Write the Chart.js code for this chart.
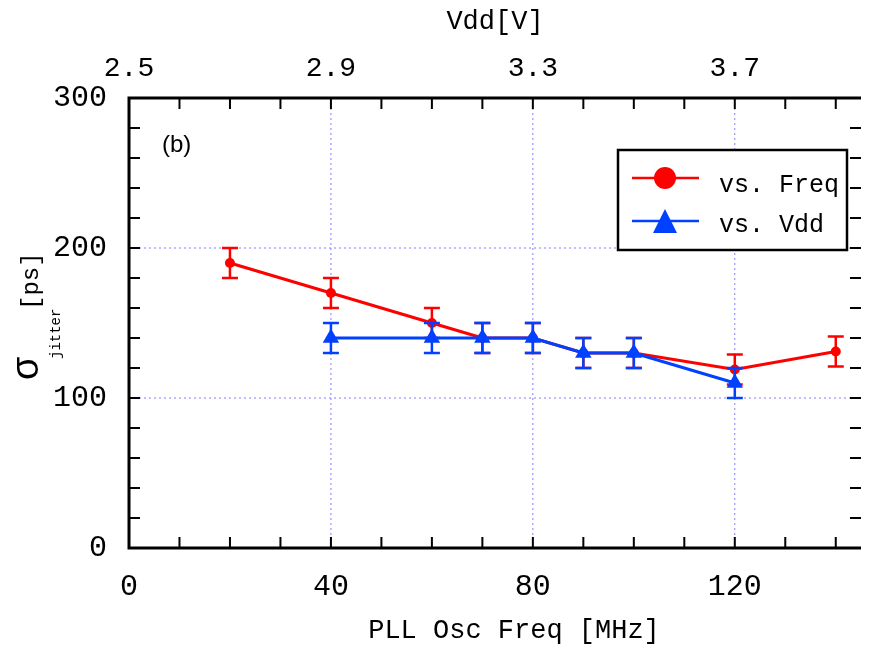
<!DOCTYPE html>
<html>
<head>
<meta charset="utf-8">
<script src="https://cdn.jsdelivr.net/npm/chart.js@4.4.1/dist/chart.umd.min.js"></script>
<style>
  html, body { margin: 0; padding: 0; background: #fff; }
  canvas { display: block; }
</style>
</head>
<body>
<canvas id="jitter" width="877" height="649"></canvas>
<script>
/* jitter vs PLL frequency / Vdd */

// red series: vs. Freq (x in MHz)
const freqX      = [20, 40, 60, 70, 80, 90, 100, 120, 140];
const freqJitter = [190, 170, 150, 140, 140, 130, 130, 119, 131];
const freqErr    = [10, 10, 10, 10, 10, 10, 10, 10, 10];

// blue series: vs. Vdd (x in V, top axis)
const vddX      = [2.9, 3.1, 3.2, 3.3, 3.4, 3.5, 3.7];
const vddJitter = [140, 140, 140, 140, 130, 130, 110];
const vddErr    = [10, 10, 10, 10, 10, 10, 10];

// tick labels
const freqTicks = [0, 40, 80, 120];
const vddTicks  = [2.5, 2.9, 3.3, 3.7];
const yTicks    = [0, 100, 200, 300];

const RED = '#ff0000';
const BLUE = '#0040ff';
const GRID = '#7f7fff';
const MONO = "'Liberation Mono', 'DejaVu Sans Mono', monospace";
const SANS = "'Liberation Sans', Arial, sans-serif";

// error bars, drawn right after each dataset so blue covers red
const errorBars = {
  id: 'errorBars',
  afterDatasetDraw(chart, args) {
    const ds = chart.data.datasets[args.index];
    const xs = chart.scales[args.meta.xAxisID];
    const ys = chart.scales[args.meta.yAxisID];
    const ctx = chart.ctx;
    ctx.save();
    ctx.strokeStyle = ds.borderColor;
    ctx.lineWidth = 2.5;
    ds.data.forEach((p, i) => {
      const e = ds.errors[i];
      const x = xs.getPixelForValue(p.x);
      const top = ys.getPixelForValue(p.y + e);
      const bot = ys.getPixelForValue(p.y - e);
      ctx.beginPath();
      ctx.moveTo(x, top); ctx.lineTo(x, bot);
      ctx.moveTo(x - 8, top); ctx.lineTo(x + 8, top);
      ctx.moveTo(x - 8, bot); ctx.lineTo(x + 8, bot);
      ctx.stroke();
    });
    ctx.restore();
  }
};

// dotted grid, frame and inward ticks, titles, legend
const frame = {
  id: 'frame',
  beforeDatasetsDraw(chart) {
    const { ctx, chartArea: a, scales } = chart;
    ctx.save();
    ctx.strokeStyle = GRID;
    ctx.lineWidth = 1;
    ctx.setLineDash([2, 3]);
    freqTicks.slice(1).forEach(v => {
      const x = scales.x.getPixelForValue(v);
      ctx.beginPath(); ctx.moveTo(x, a.top); ctx.lineTo(x, a.bottom); ctx.stroke();
    });
    yTicks.slice(1, -1).forEach(v => {
      const y = scales.y.getPixelForValue(v);
      ctx.beginPath(); ctx.moveTo(a.left, y); ctx.lineTo(a.right, y); ctx.stroke();
    });
    ctx.restore();
  },
  afterDraw(chart) {
    const { ctx, chartArea: a, scales } = chart;
    const tl = 11;
    ctx.save();
    ctx.strokeStyle = '#000';
    ctx.lineWidth = 2;
    ctx.beginPath();
    for (let v = 10; v < 145; v += 10) {
      const x = scales.x.getPixelForValue(v);
      ctx.moveTo(x, a.bottom); ctx.lineTo(x, a.bottom - tl);
      ctx.moveTo(x, a.top); ctx.lineTo(x, a.top + tl);
    }
    for (let v = 20; v < 300; v += 20) {
      const y = scales.y.getPixelForValue(v);
      ctx.moveTo(a.left, y); ctx.lineTo(a.left + tl, y);
      ctx.moveTo(a.right, y); ctx.lineTo(a.right - tl, y);
    }
    ctx.stroke();
    ctx.lineWidth = 3;
    ctx.beginPath();
    ctx.moveTo(a.right, a.top); ctx.lineTo(a.left, a.top);
    ctx.lineTo(a.left, a.bottom); ctx.lineTo(a.right, a.bottom);
    ctx.stroke();

    // x title (sits right of centre in the original)
    ctx.fillStyle = '#000';
    ctx.font = '27px ' + MONO;
    ctx.textAlign = 'center';
    ctx.textBaseline = 'middle';
    ctx.fillText('PLL Osc Freq [MHz]', 514, 631);

    // y title: sigma_jitter [ps]
    ctx.textAlign = 'left';
    ctx.textBaseline = 'alphabetic';
    ctx.translate(38, 380);
    ctx.rotate(-Math.PI / 2);
    ctx.font = '38px ' + SANS;
    ctx.fillText('σ', 0, 0);
    ctx.font = '14px ' + MONO;
    ctx.fillText('jitter', 21, 22);
    ctx.font = '24px ' + MONO;
    ctx.fillText('[ps]', 70, 0);
    ctx.restore();

    // panel tag
    ctx.save();
    ctx.fillStyle = '#000';
    ctx.font = '24px ' + SANS;
    ctx.fillText('(b)', 162, 152);

    // legend box
    ctx.fillStyle = '#fff';
    ctx.fillRect(618, 150, 229, 100);
    ctx.strokeStyle = '#000';
    ctx.lineWidth = 2.5;
    ctx.strokeRect(618, 150, 229, 100);
    ctx.strokeStyle = RED;
    ctx.beginPath(); ctx.moveTo(632, 178); ctx.lineTo(699, 178); ctx.stroke();
    ctx.fillStyle = RED;
    ctx.beginPath(); ctx.arc(665, 178, 11, 0, Math.PI * 2); ctx.fill();
    ctx.strokeStyle = BLUE;
    ctx.beginPath(); ctx.moveTo(632, 221); ctx.lineTo(699, 221); ctx.stroke();
    ctx.fillStyle = BLUE;
    ctx.beginPath(); ctx.moveTo(665, 209); ctx.lineTo(677, 233); ctx.lineTo(653, 233); ctx.closePath(); ctx.fill();
    ctx.fillStyle = '#000';
    ctx.font = '25px ' + MONO;
    ctx.fillText('vs. Freq', 719, 192);
    ctx.fillText('vs. Vdd', 719, 232);
    ctx.restore();
  }
};

const tickFont = size => ({ family: MONO, size });

new Chart(document.getElementById('jitter'), {
  type: 'line',
  data: {
    datasets: [{
      label: 'vs. Freq',
      data: freqX.map((x, i) => ({ x, y: freqJitter[i] })),
      errors: freqErr,
      xAxisID: 'x',
      order: 1,
      borderColor: RED,
      backgroundColor: RED,
      borderWidth: 3,
      pointStyle: 'circle',
      pointRadius: 5,
      pointBorderWidth: 0
    }, {
      label: 'vs. Vdd',
      data: vddX.map((x, i) => ({ x, y: vddJitter[i] })),
      errors: vddErr,
      xAxisID: 'x2',
      order: 0,
      borderColor: BLUE,
      backgroundColor: BLUE,
      borderWidth: 3,
      pointStyle: 'triangle',
      pointRadius: 9.5,
      pointBorderWidth: 0
    }]
  },
  options: {
    responsive: false,
    animation: false,
    layout: { padding: { left: 0, right: 16, top: 0, bottom: 0 } },
    plugins: { legend: { display: false }, tooltip: { enabled: false } },
    elements: { line: { tension: 0 } },
    scales: {
      x: {
        type: 'linear', position: 'bottom', min: 0, max: 145,
        afterBuildTicks: s => { s.ticks = freqTicks.map(v => ({ value: v })); },
        afterFit: s => { s.height = 101; },
        grid: { display: false }, border: { display: false },
        ticks: { padding: 13, maxRotation: 0, autoSkip: false, color: '#000', font: tickFont(30) }
      },
      x2: {
        type: 'linear', position: 'top', min: 2.5, max: 3.95,
        afterBuildTicks: s => { s.ticks = vddTicks.map(v => ({ value: v })); },
        afterFit: s => { s.height = 98; },
        grid: { display: false }, border: { display: false },
        ticks: { padding: 5, maxRotation: 0, autoSkip: false, color: '#000', font: tickFont(28), callback: v => v.toFixed(1) },
        title: { display: true, text: 'Vdd[V]', color: '#000', font: tickFont(27), padding: { top: 6, bottom: 0 } }
      },
      y: {
        type: 'linear', min: 0, max: 300,
        afterBuildTicks: s => { s.ticks = yTicks.map(v => ({ value: v })); },
        afterFit: s => { s.width = 129; },
        grid: { display: false }, border: { display: false },
        ticks: { padding: 14, color: '#000', font: tickFont(30) }
      }
    }
  },
  plugins: [frame, errorBars]
});
</script>
</body>
</html>
